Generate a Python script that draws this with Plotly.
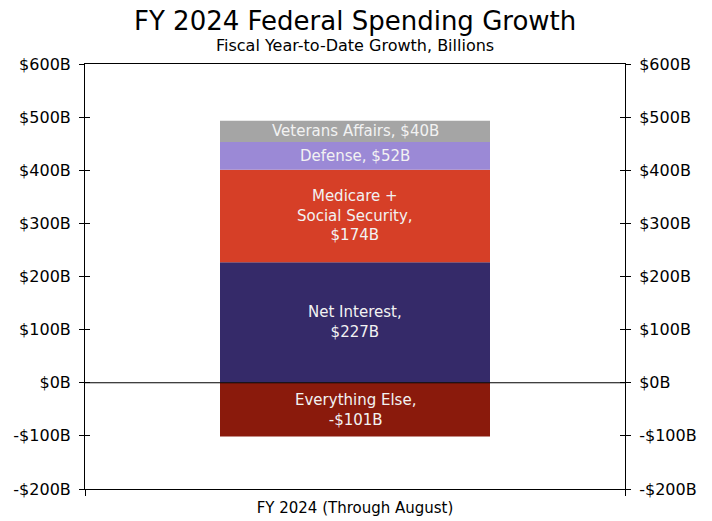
import plotly.graph_objects as go

# Fiscal year-to-date spending growth by category (billions of dollars)
category = "FY 2024 (Through August)"
segments = ["Net Interest", "Medicare + Social Security", "Defense", "Veterans Affairs", "Everything Else"]
values = [227, 174, 52, 40, -101]
labels = ["Net Interest,<br>$227B", "Medicare +<br>Social Security,<br>$174B",
          "Defense, $52B", "Veterans Affairs, $40B", "Everything Else,<br>-$101B"]
colors = ["#352a69", "#d63f27", "#9b89d6", "#a5a5a5", "#8a1a0c"]

y_ticks = [-200, -100, 0, 100, 200, 300, 400, 500, 600]
y_tick_text = [f"-${-v}B" if v < 0 else f"${v}B" for v in y_ticks]

FONT = "DejaVu Sans"

fig = go.Figure()
annotations = []
pos_base, neg_base = 0, 0
for name, val, lab, col in zip(segments, values, labels, colors):
    fig.add_trace(go.Bar(
        x=[0], y=[val], name=name, marker=dict(color=col, line=dict(width=0)),
        width=0.5, showlegend=False, hoverinfo="skip",
    ))
    if val >= 0:
        mid = pos_base + val / 2
        pos_base += val
    else:
        mid = neg_base + val / 2
        neg_base += val
    annotations.append(dict(
        x=0, y=mid, xref="x", yref="y", text=lab, showarrow=False,
        font=dict(family=FONT, size=15, color="#f2f2f2"), align="center",
    ))

# invisible carriers for the extra value axes (right labels, crossing tick halves)
for ax in ["y2", "y3", "y4"]:
    fig.add_trace(go.Scatter(x=[0], y=[0], yaxis=ax, mode="markers",
                             marker=dict(opacity=0), showlegend=False, hoverinfo="skip"))

annotations += [
    dict(text="FY 2024 Federal Spending Growth", x=0.5, y=1, xref="paper", yref="paper",
         xanchor="center", yanchor="bottom", yshift=26, showarrow=False,
         font=dict(family=FONT, size=26, color="#000000")),
    dict(text="Fiscal Year-to-Date Growth, Billions", x=0.5, y=1, xref="paper", yref="paper",
         xanchor="center", yanchor="bottom", yshift=7, showarrow=False,
         font=dict(family=FONT, size=16, color="#000000")),
]

yaxis_common = dict(
    range=[-200, 600], tickvals=y_ticks, ticktext=y_tick_text, automargin=False,
    showgrid=False, zeroline=False, showline=True, linecolor="#000000", linewidth=1,
    tickcolor="#000000", ticklen=5, tickwidth=1,
    tickfont=dict(family=FONT, size=16, color="#000000"),
)

fig.update_layout(
    width=712, height=521,
    margin=dict(l=85, r=87, t=64, b=32),
    paper_bgcolor="#ffffff", plot_bgcolor="#ffffff",
    barmode="relative",
    xaxis=dict(
        range=[-0.5, 0.5], tickvals=[0], ticktext=[category], ticks="", automargin=False,
        showgrid=False, zeroline=False, showline=True, linecolor="#000000", mirror=True,
        tickfont=dict(family=FONT, size=15, color="#000000"), ticklabelstandoff=5,
        minor=dict(tickvals=[-0.5, 0.5], ticks="outside", ticklen=6, tickcolor="#000000"),
    ),
    yaxis=dict(**yaxis_common, side="left", ticks="outside", ticklabelstandoff=5),
    yaxis2=dict(**yaxis_common, side="right", overlaying="y", ticks="outside", ticklabelstandoff=5),
    yaxis3=dict(**yaxis_common, side="left", overlaying="y", ticks="inside", showticklabels=False),
    yaxis4=dict(**yaxis_common, side="right", overlaying="y", ticks="inside", showticklabels=False),
    shapes=[dict(type="line", xref="paper", x0=0, x1=1, yref="y", y0=0, y1=0,
                 line=dict(color="#000000", width=1))],
    annotations=annotations,
)

fig.write_html("out.html")
